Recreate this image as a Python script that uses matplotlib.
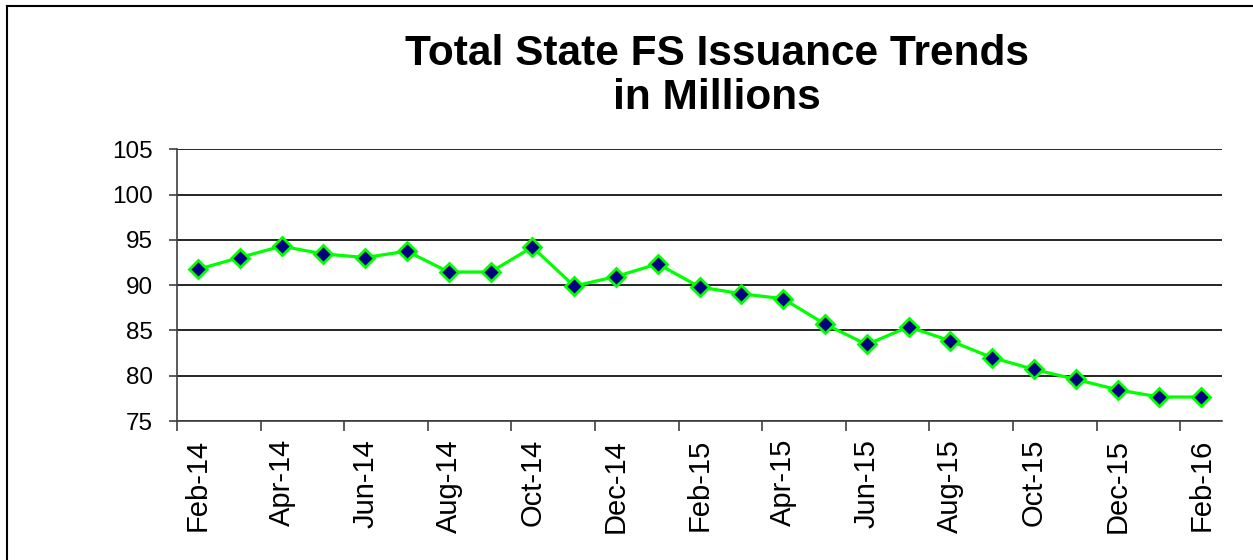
import matplotlib
matplotlib.use('Agg')
import matplotlib.pyplot as plt
import numpy as np
from matplotlib.lines import Line2D

# ========== data ==========
months = ['Feb-14', 'Mar-14', 'Apr-14', 'May-14', 'Jun-14', 'Jul-14', 'Aug-14',
          'Sep-14', 'Oct-14', 'Nov-14', 'Dec-14', 'Jan-15', 'Feb-15', 'Mar-15',
          'Apr-15', 'May-15', 'Jun-15', 'Jul-15', 'Aug-15', 'Sep-15', 'Oct-15',
          'Nov-15', 'Dec-15', 'Jan-16', 'Feb-16']
issuance = [91.75, 93.05, 94.3, 93.45, 93.05, 93.75, 91.45, 91.45, 94.2,
            89.9, 90.95, 92.35, 89.8, 89.05, 88.5, 85.7, 83.45, 85.4,
            83.85, 82.0, 80.7, 79.6, 78.45, 77.65, 77.65]
y_ticks = [75, 80, 85, 90, 95, 100, 105]
title = 'Total State FS Issuance Trends\nin Millions'

# ========== plot ==========
plt.rcParams['font.family'] = ['Liberation Sans', 'DejaVu Sans']

fig = plt.figure(figsize=(12.53, 5.6), dpi=100)
ax = fig.add_axes([0.1413, 0.2482, 0.834, 0.4852])

x = np.arange(len(issuance))
ax.plot(x, issuance, color='#00ff00', linewidth=2.3, marker='D', markersize=9.5,
        markerfacecolor='#000080', markeredgecolor='#00ff00',
        markeredgewidth=2, zorder=3)

ax.set_xlim(-0.5, len(issuance) - 0.5)
ax.set_ylim(y_ticks[0], y_ticks[-1])
ax.set_yticks(y_ticks)
ax.yaxis.grid(True, color='black', linewidth=1.2)
ax.set_axisbelow(True)

# tick marks between months, labels on every other month
ax.set_xticks(np.arange(-0.5, len(issuance), 2))
ax.set_xticklabels([])
ax.set_xticks(x[::2], minor=True)
ax.set_xticklabels(months[::2], minor=True, rotation=90, fontsize=21)
ax.tick_params(axis='x', which='minor', length=0, pad=13)
ax.tick_params(axis='x', which='major', length=7, width=1.2, color='#404040',
               direction='out')
ax.tick_params(axis='y', length=6, width=1.2, color='#404040', labelsize=17.5,
               pad=11.5)

for side in ['top', 'right']:
    ax.spines[side].set_visible(False)
for side in ['left', 'bottom']:
    ax.spines[side].set_color('#404040')
    ax.spines[side].set_linewidth(1.2)

fig.text(717 / 1253, 1 - 76 / 560, title, ha='center', va='center',
         fontsize=30.5, fontweight='bold', linespacing=1.15)

# frame on top and left edges
fig.add_artist(Line2D([6.5 / 1253, 6.5 / 1253], [0, 1 - 5.5 / 560],
                      transform=fig.transFigure, color='black', linewidth=1.5))
fig.add_artist(Line2D([6.5 / 1253, 1], [1 - 5.5 / 560, 1 - 5.5 / 560],
                      transform=fig.transFigure, color='black', linewidth=1.5))

fig.savefig('out.png', dpi=100)
